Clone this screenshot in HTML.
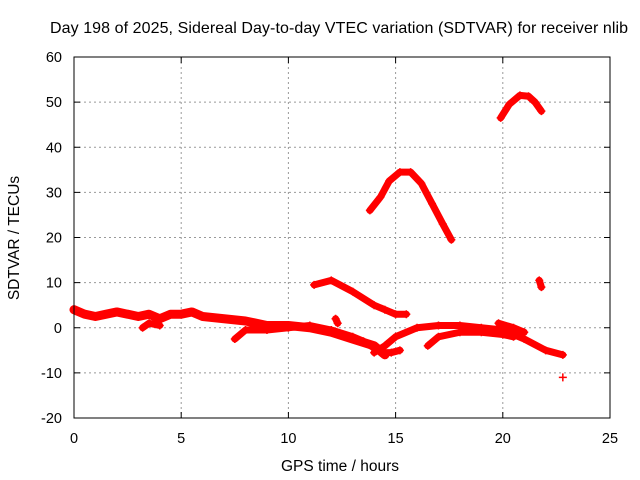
<!DOCTYPE html>
<html><head><meta charset="utf-8"><style>
body{margin:0;background:#fff}
svg{display:block;font-family:"Liberation Sans",sans-serif}
</style></head><body>
<svg id="c" width="640" height="480">
<rect width="640" height="480" fill="#fff"/>
<text x="339" y="33" font-size="16" text-anchor="middle" textLength="578">Day 198 of 2025, Sidereal Day-to-day VTEC variation (SDTVAR) for receiver nlib</text>
<text x="340" y="471" font-size="15.5" text-anchor="middle">GPS time / hours</text>
<text x="19" y="238" font-size="15.5" text-anchor="middle" transform="rotate(-90 19 238)">SDTVAR / TECUs</text>
<g id="grid"></g><g id="ticks"></g><g id="series"></g>
<rect x="74" y="57" width="536" height="361" fill="none" stroke="#000"/>
</svg>
<script>
const xTicks=[0,5,10,15,20,25];
const yTicks=[-20,-10,0,10,20,30,40,50,60];
const seriesMain=[[0,4],[0.5,3],[1,2.5],[1.5,3],[2,3.5],[2.5,3],[3,2.5],[3.5,3],[4,2],[4.5,3],[5,3],[5.5,3.5],[6,2.5],[7,2],[8,1.5],[9,0.5],[10,0.5],[11,0],[12,-1],[13,-2.5],[14,-4],[14.5,-6]];
const seriesLowA=[[3.2,0],[3.5,1],[4,0.5]];
const seriesLowB=[[7.5,-2.5],[8,-0.5],[9,-0.5],[10,0],[11,0.5],[12,-0.5],[13,-2],[13.5,-3],[14,-4.5]];
const seriesRise=[[14,-5.5],[14.5,-4],[15,-2],[16,0],[17,0.5],[18,0.5],[19,0],[20,-0.5],[21,-2.5],[22,-5],[22.8,-6]];
const seriesRise2=[[14.3,-5.5],[14.8,-5.5],[15.2,-5]];
const seriesRise3=[[16.5,-4],[17,-2],[18,-1],[19,-1],[20,-1.5],[20.5,-2]];
const seriesRise4=[[19.8,1],[20.5,0],[21,-1]];
const seriesArc1=[[11.2,9.5],[12,10.5],[13,8],[14,5],[14.5,4],[15,3],[15.5,3]];
const seriesArc2=[[13.8,26],[14.3,29],[14.7,32.5],[15.2,34.5],[15.7,34.5],[16.2,32],[16.7,27.5],[17.2,23],[17.6,19.5]];
const seriesArc3=[[19.9,46.5],[20.3,49.5],[20.8,51.5],[21.2,51.3],[21.5,50],[21.8,48]];
const seriesSmall=[[21.7,10.5],[21.8,9]];
const seriesBlip=[[12.2,2],[12.3,1]];
const seriesOutlier=[[22.8,-11]];
const allSeries=[seriesMain,seriesLowA,seriesLowB,seriesRise,seriesRise2,seriesRise3,seriesRise4,seriesArc1,seriesArc2,seriesArc3,seriesSmall,seriesBlip,seriesOutlier];
const X=t=>74+t*536/25, Y=v=>418-(v+20)*361/80;
const NS="http://www.w3.org/2000/svg";
function mk(tag,attrs,parent){const e=document.createElementNS(NS,tag);for(const k in attrs)e.setAttribute(k,attrs[k]);parent.appendChild(e);return e;}
const grid=document.getElementById('grid'),ticks=document.getElementById('ticks'),ser=document.getElementById('series');
xTicks.forEach(t=>{const x=X(t);
 if(t>0&&t<25){const g=mk('line',{x1:x,x2:x,y1:57,y2:418,stroke:'#999','stroke-dasharray':'2,3'},grid);
 
 }
 mk('line',{x1:x,x2:x,y1:418,y2:412,stroke:'#000'},ticks);mk('line',{x1:x,x2:x,y1:57,y2:63,stroke:'#000'},ticks);
 const l=mk('text',{x:x,y:443,'font-size':14.5,'text-anchor':'middle'},ticks);l.textContent=t;
 
 });
yTicks.forEach(v=>{const y=Y(v);
 if(v>-20&&v<60){const g=mk('line',{x1:74,x2:610,y1:y,y2:y,stroke:'#999','stroke-dasharray':'2,3'},grid);
 
 }
 mk('line',{x1:74,x2:80,y1:y,y2:y,stroke:'#000'},ticks);mk('line',{x1:610,x2:604,y1:y,y2:y,stroke:'#000'},ticks);
 const l=mk('text',{x:62,y:y+5,'font-size':14.5,'text-anchor':'end'},ticks);l.textContent=v;
 
 });
allSeries.forEach((s,i)=>{
 if(s.length>1){const p=mk('polyline',{points:s.map(d=>X(d[0])+','+Y(d[1])).join(' '),fill:'none',stroke:'#f00','stroke-width':i===0?9:7,'stroke-linejoin':'round','stroke-linecap':'round'},ser);
 
 }
 s.forEach(d=>{const x=X(d[0]),y=Y(d[1]);
  const m=mk('path',{d:`M${x-4},${y}H${x+4}M${x},${y-4}V${y+4}`,stroke:'#f00','stroke-width':1.5},ser);
  
  });
});
</script>
</body></html>
